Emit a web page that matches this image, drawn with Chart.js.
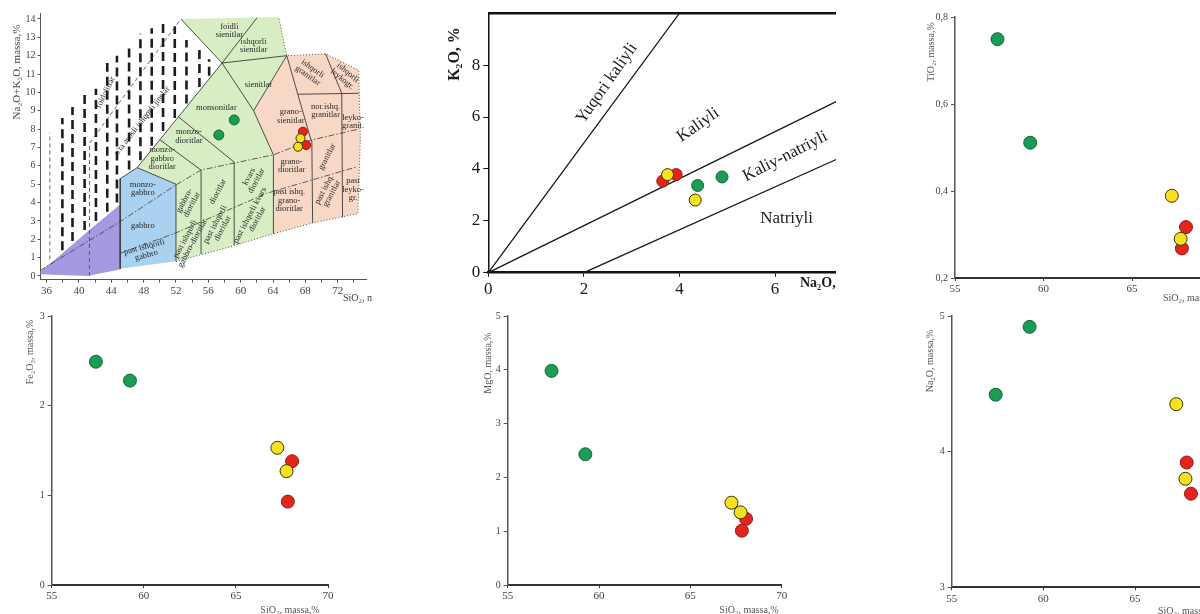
<!DOCTYPE html>
<html>
<head>
<meta charset="utf-8">
<title>SiO2 diagrammalari</title>
<script src="https://cdn.jsdelivr.net/npm/chart.js@4.4.1/dist/chart.umd.min.js"></script>
<style>
  html, body { margin: 0; padding: 0; background: #fff; }
  body { position: relative; width: 1200px; height: 614px; overflow: hidden; }
  .panel { position: absolute; overflow: hidden; }
  .panel canvas { position: absolute; left: 0; top: 0; }
</style>
</head>
<body>
<div class="panel" style="left:0;top:0;width:372px;height:307px"><canvas id="tas" width="372" height="307"></canvas></div>
<div class="panel" style="left:440px;top:0;width:396px;height:300px"><canvas id="kna" width="440" height="300"></canvas></div>
<div class="panel" style="left:900px;top:0;width:300px;height:307px"><canvas id="ti" width="340" height="307"></canvas></div>
<div class="panel" style="left:0;top:300px;width:440px;height:314px"><canvas id="fe" width="440" height="314"></canvas></div>
<div class="panel" style="left:440px;top:300px;width:440px;height:314px"><canvas id="mg" width="440" height="314"></canvas></div>
<div class="panel" style="left:900px;top:300px;width:300px;height:314px"><canvas id="na" width="340" height="314"></canvas></div>
<script>
// sample groups: green, yellow, red
// TAS diagram (SiO2 vs Na2O+K2O)
const tasSiGreen = [57.3, 59.2];
const tasAlkGreen = [7.68, 8.5];
const tasSiYellow = [67.4, 67.1];
const tasAlkYellow = [7.5, 7.04];
const tasSiRed = [67.7, 68.1];
const tasAlkRed = [7.86, 7.13];

// K2O vs Na2O
const naGreen = [4.38, 4.89];
const kGreen = [3.36, 3.69];
const naYellow = [3.75, 4.33];
const kYellow = [3.78, 2.8];
const naRed = [3.65, 3.93];
const kRed = [3.53, 3.78];

// Harker diagrams, SiO2 shared
const siGreen = [57.4, 59.25];
const siYellow = [67.25, 67.75];
const siRed = [68.05, 67.82];
const tiGreen = [0.749, 0.511];
const tiYellow = [0.389, 0.29];
const tiRed = [0.317, 0.268];
const feGreen = [2.49, 2.28];
const feYellow = [1.53, 1.27];
const feRed = [1.38, 0.93];
const mgGreen = [3.98, 2.43];
const mgYellow = [1.53, 1.35];
const mgRed = [1.23, 1.01];
const na2oGreen = [4.42, 4.92];
const na2oYellow = [4.35, 3.80];
const na2oRed = [3.69, 3.92];

// tick values
const tasTicksX = [36, 38, 40, 42, 44, 46, 48, 50, 52, 54, 56, 58, 60, 62, 64, 66, 68, 70, 72, 74];
const tasTicksY = [0, 1, 2, 3, 4, 5, 6, 7, 8, 9, 10, 11, 12, 13, 14];
const knaTicks = [0, 2, 4, 6, 8];
const siTicks = [55, 60, 65, 70];
const tiTicks = [0.2, 0.4, 0.6, 0.8];
const feTicks = [0, 1, 2, 3];
const mgTicks = [0, 1, 2, 3, 4, 5];
const na2oTicks = [3, 4, 5];

// TAS field outlines
const tasPurple = [[35.2,0.1],[41,0],[45.1,0.35],[45.1,3.9],[41.3,2.5],[37.2,0.95],[35.2,0.25]];
const tasBlue = [[45.1,0.4],[52,0.8],[52,5.0],[47.2,5.9],[45.1,5.3]];
const tasGreen = [[52,0.8],[58,1.5],[64.05,2.3],[64.05,6.6],[61.6,9.0],[65.7,12.0],[64.7,14.1],[52.6,14.0],[57.7,11.6],[47.2,5.9],[52,5.0]];
const tasPink = [[64.05,2.3],[69,2.9],[74.5,3.4],[74.8,7.5],[74.6,11.2],[70.5,12.1],[65.7,12.0],[61.6,9.0],[64.05,6.6]];
const tasSolid = [
  [[47.2,5.9],[57.7,11.6]], [[52.6,14.0],[57.7,11.6],[62.0,14.05]], [[57.7,11.6],[65.7,12.0]],
  [[57.7,11.6],[61.6,9.0],[64.05,6.6]], [[61.6,9.0],[65.7,12.0],[68.7,7.4]],
  [[50.0,7.42],[55.1,5.77]], [[52.3,8.67],[59.2,6.2]],
  [[52,0.8],[52,5.0],[47.2,5.9],[45.1,5.3],[45.1,0.4]],
  [[55.1,1.2],[55.1,5.77]], [[59.2,1.7],[59.2,6.2]], [[64.05,2.3],[64.05,6.6]],
  [[68.9,2.9],[68.8,7.4]], [[67.13,9.9],[74.6,9.95]], [[72.6,3.2],[72.5,9.95]], [[70.5,12.1],[72.5,9.95]]
];
const tasDashDot = [
  [[35.2,0.3],[45.1,2.96],[52,4.96],[55.1,5.77],[64.05,6.6],[68.7,7.4],[74.6,8.0]],
  [[45.1,1.24],[51.9,2.33],[63.2,4.5],[74.4,5.95]]
];
const tasDotted = [[[52,0.8],[58,1.5],[64.05,2.3],[69,2.9],[74.5,3.4],[74.8,7.5],[74.6,11.2],[70.5,12.1],[65.7,12.0],[64.7,14.1]]];
const tasThinDash = [[[36.4,0.9],[36.4,7.8]], [[41.3,0.0],[41.3,7.23],[52.6,14.0]]];
const picketX = [37.95, 39.2, 40.7, 42.1, 43.5, 44.7, 46.2, 47.6, 49.0, 50.4, 51.85, 53.3, 54.9, 56.1];
const picketTop = [8.6, 9.2, 10.1, 10.2, 11.6, 12.0, 12.6, 13.2, 13.5, 13.9, 13.6, 12.85, 12.5, 11.8];
const picketBase = [1.4, 1.9, 2.5, 3.0, 3.5, 4.0, 5.8, 6.3, 7.1, 7.9, 8.6, 9.4, 10.3, 10.9];

// K2O-Na2O boundaries
const kBounds = [[[0,0],[4,10]], [[0,0],[8,7.25]], [[2,0],[8,4.96]]];

const serif = "'Liberation Serif', 'DejaVu Serif', serif";
const GREEN = '#1b9c54', GREEN_EDGE = '#0f6a36';
const RED = '#e2261c', RED_EDGE = '#991710';
const YELLOW = '#f6e022', YELLOW_EDGE = '#3d3300';

function f(size, weight) { return { family: serif, size: size, weight: weight || 'normal' }; }
function fs(size, weight) { return (weight ? weight + ' ' : '') + size + 'px ' + serif; }

function axis(min, max, ticks, size, fmt, font, textColor, lineColor, lineW, tickLen, pad) {
  return {
    type: 'linear', min: min, max: max,
    afterFit: function (s) { if (s.isHorizontal()) s.height = size; else s.width = size; },
    afterBuildTicks: function (s) { s.ticks = ticks.map(function (v) { return { value: v }; }); },
    ticks: { font: font, color: textColor, padding: pad, autoSkip: false, maxRotation: 0, minRotation: 0, callback: fmt },
    grid: { drawOnChartArea: false, drawTicks: true, tickLength: tickLen, tickWidth: 1, color: lineColor },
    border: { display: true, color: lineColor, width: lineW }
  };
}

function dots(xs, ys, fill, edge, r) {
  return { data: xs.map(function (x, i) { return { x: x, y: ys[i] }; }),
    backgroundColor: fill, borderColor: edge, borderWidth: 1, pointRadius: r, order: 0 };
}

function area(poly, color) {
  return { data: poly.map(function (p) { return { x: p[0], y: p[1] }; }), showLine: true, fill: 'shape',
    backgroundColor: color, borderColor: 'rgba(0,0,0,0)', borderWidth: 0, pointRadius: 0, order: 3 };
}

function path(segs, color, w, dash, extra) {
  const data = [];
  segs.forEach(function (seg, k) {
    if (k) data.push({ x: seg[0][0], y: null });
    seg.forEach(function (p) { data.push({ x: p[0], y: p[1] }); });
  });
  return Object.assign({ data: data, showLine: true, fill: false, borderColor: color, borderWidth: w,
    borderDash: dash || [], pointRadius: 0, spanGaps: false, order: 2 }, extra || {});
}

function notes(items) {
  return {
    id: 'notes',
    afterDatasetDraw: function (chart, args) {
      if (chart.data.datasets[args.index].label !== 'notes') return;
      const ctx = chart.ctx, sx = chart.scales.x, sy = chart.scales.y;
      items.forEach(function (n) {
        const px = n.px !== undefined ? n.px : sx.getPixelForValue(n.x);
        const py = n.py !== undefined ? n.py : sy.getPixelForValue(n.y);
        const lines = [].concat(n.t);
        ctx.save();
        ctx.translate(px, py);
        ctx.rotate((n.r || 0) * Math.PI / 180);
        ctx.font = n.font;
        ctx.fillStyle = n.c || '#333';
        ctx.textAlign = n.a || 'center';
        ctx.textBaseline = 'middle';
        lines.forEach(function (s, i) { ctx.fillText(s, 0, (i - (lines.length - 1) / 2) * (n.lh || 9)); });
        ctx.restore();
      });
    }
  };
}

function scatterChart(id, s) {
  return new Chart(document.getElementById(id), {
    type: 'scatter',
    data: { datasets: s.datasets.concat([{ label: 'notes', data: [], order: 0.5 }]) },
    options: {
      responsive: false, animation: false, devicePixelRatio: 1, events: [],
      layout: { padding: { left: 0, top: s.top, right: s.right, bottom: 0 } },
      scales: { x: s.x, y: s.y },
      plugins: { legend: { display: false }, tooltip: { enabled: false } }
    },
    plugins: [notes(s.notes)]
  });
}

// ---------- TAS ----------
const lab = fs(8.5);
const tasNames = [
  { t: ['foidli', 'sienitlar'], x: 58.6, y: 13.35 },
  { t: ['ishqorli', 'sienitlar'], x: 61.6, y: 12.55 },
  { t: ['sienitlar'], x: 62.2, y: 10.4 },
  { t: ['monsonitlar'], x: 57.0, y: 9.15 },
  { t: ['monzo-', 'dioritlar'], x: 53.6, y: 7.6 },
  { t: ['monzo-', 'gabbro', 'dioritlar'], x: 50.3, y: 6.4 },
  { t: ['monzo-', 'gabbro'], x: 47.9, y: 4.75 },
  { t: ['gabbro'], x: 47.9, y: 2.75 },
  { t: ['past ishqorli', 'gabbro'], x: 48.2, y: 1.35, r: -15 },
  { t: ['gabbro-', 'dioritlar'], x: 53.5, y: 4.0, r: -62 },
  { t: ['past ishqorli', 'gabbro-dioritlar'], x: 53.6, y: 1.9, r: -62 },
  { t: ['dioritlar'], x: 57.2, y: 4.6, r: -62 },
  { t: ['past ishqorli', 'dioritlar'], x: 57.3, y: 2.7, r: -62 },
  { t: ['kvars', 'dioritlar'], x: 61.5, y: 5.3, r: -62 },
  { t: ['past ishqorli kvars', 'dioritlar'], x: 61.6, y: 3.2, r: -62 },
  { t: ['grano-', 'sienitlar'], x: 66.2, y: 8.7 },
  { t: ['grano-', 'dioritlar'], x: 66.3, y: 6.0 },
  { t: ['past ishq.', 'grano-', 'dioritlar'], x: 66.0, y: 4.1 },
  { t: ['granitlar'], x: 70.7, y: 6.5, r: -62 },
  { t: ['past ishq.', 'granitlar'], x: 70.8, y: 4.6, r: -62 },
  { t: ['nor.ishq.', 'granitlar'], x: 70.5, y: 9.0 },
  { t: ['ishqorli', 'granitlar'], x: 68.6, y: 11.1, r: 35 },
  { t: ['ishqorli', 'leykogr.'], x: 72.9, y: 10.9, r: 40 },
  { t: ['leyko-', 'granit.'], x: 73.9, y: 8.4 },
  { t: ['past', 'leyko-', 'gr.'], x: 73.9, y: 4.7 },
  { t: ['foidolitlar'], x: 43.3, y: 10.0, r: -64 },
  { t: ["o'ta asosli ishqorli jinslar"], x: 47.8, y: 8.45, r: -52 }
].map(function (n) { n.font = lab; n.c = '#2a2a2a'; n.lh = 8.5; return n; });

const picketSegs = picketX.map(function (x, i) { return [[x, picketBase[i]], [x, picketTop[i]]]; });

scatterChart('tas', {
  top: 13.45, right: 1.4,
  x: axis(35.25, 75.5, tasTicksX, 27.35, function (v) { return (v % 4 === 0 && v <= 72) ? String(v) : ''; },
    f(11), '#444', '#555', 1, 3, 2),
  y: axis(-0.2, 14.3, tasTicksY, 40.55, function (v) { return String(v); }, f(10), '#444', '#555', 1, 3, 2),
  datasets: [
    dots(tasSiYellow, tasAlkYellow, YELLOW, YELLOW_EDGE, 4.5),
    dots(tasSiRed, tasAlkRed, RED, RED_EDGE, 4.5),
    dots(tasSiGreen, tasAlkGreen, GREEN, GREEN_EDGE, 5),
    path(tasSolid, '#3a3a3a', 0.9),
    path(tasDashDot, '#3a3a3a', 0.8, [6, 2, 1.5, 2]),
    path(tasDotted, '#555', 1, [1, 2]),
    path(tasThinDash, '#444', 0.8, [4, 3]),
    path(picketSegs, '#1c1c1c', 2.6, [9, 5]),
    area(tasPurple, '#a39ae0'),
    area(tasBlue, '#a8d2f0'),
    area(tasGreen, '#d8edc3'),
    area(tasPink, '#f7d8c4')
  ],
  notes: tasNames.concat([
    { t: 'Na₂O+K₂O, massa,%', px: 16.7, py: 72, r: -90, font: fs(11), c: '#444' },
    { t: 'SiO₂, massa,%', px: 343, py: 298, a: 'left', font: fs(10), c: '#444' }
  ])
});

// ---------- K2O vs Na2O ----------
const bigLab = fs(17);
scatterChart('kna', {
  top: 10, right: 9.3,
  x: axis(0, 8, knaTicks, 27.3, function (v) { return String(v); }, f(17), '#1a1a1a', '#111', 2.5, 4, 3),
  y: axis(0, 10, knaTicks, 48.3, function (v) { return String(v); }, f(17), '#1a1a1a', '#111', 1.5, 5, 3),
  datasets: [
    dots(naYellow, kYellow, YELLOW, YELLOW_EDGE, 6),
    dots(naRed, kRed, RED, RED_EDGE, 6),
    dots(naGreen, kGreen, GREEN, GREEN_EDGE, 6),
    path(kBounds, '#1a1a1a', 1.3),
    path([[[0, 10], [8, 10]]], '#111', 2.5, [], { clip: false })
  ],
  notes: [
    { t: 'Yuqori kaliyli', x: 2.48, y: 7.3, r: -55, font: bigLab, c: '#1a1a1a' },
    { t: 'Kaliyli', x: 4.39, y: 5.69, r: -35, font: bigLab, c: '#1a1a1a' },
    { t: 'Kaliy-natriyli', x: 6.21, y: 4.48, r: -27, font: bigLab, c: '#1a1a1a' },
    { t: 'Natriyli', x: 6.24, y: 2.07, font: bigLab, c: '#1a1a1a' },
    { t: 'K₂O, %', px: 15, py: 54, r: -90, font: fs(16, 'bold'), c: '#1a1a1a' },
    { t: 'Na₂O, %', px: 360, py: 283, a: 'left', font: fs(14, 'bold'), c: '#1a1a1a' }
  ]
});

// ---------- Harker diagrams ----------
function harker(id, s) {
  scatterChart(id, {
    top: s.top, right: s.right,
    x: axis(55, 70, siTicks, s.xh, function (v) { return String(v); }, f(11), '#444', '#333', 2, 3, 2),
    y: axis(s.ymin, s.ymax, s.yticks, s.yw, s.fmt, f(10), '#444', '#555', 1.5, 4, 3),
    datasets: [
      dots(siYellow, s.yellow, YELLOW, YELLOW_EDGE, 6.5),
      dots(siRed, s.red, RED, RED_EDGE, 6.5),
      dots(siGreen, s.green, GREEN, GREEN_EDGE, 6.5)
    ],
    notes: [
      { t: s.ytitle, px: s.yt[0], py: s.yt[1], r: -90, font: fs(10), c: '#555' },
      { t: 'SiO₂, massa,%', px: s.xt[0], py: s.xt[1], a: s.xa, font: fs(10), c: '#555' }
    ]
  });
}
const plain = function (v) { return String(v); };

harker('ti', { top: 17, right: 19.5, xh: 29, yw: 55, ymin: 0.2, ymax: 0.8, yticks: tiTicks,
  fmt: function (v) { return v.toFixed(1).replace('.', ','); },
  green: tiGreen, yellow: tiYellow, red: tiRed,
  ytitle: 'TiO₂, massa,%', yt: [31.7, 52], xt: [263, 298], xa: 'left' });

harker('fe', { top: 16, right: 112, xh: 29, yw: 51.7, ymin: 0, ymax: 3, yticks: feTicks, fmt: plain,
  green: feGreen, yellow: feYellow, red: feRed,
  ytitle: 'Fe₂O₃, massa,%', yt: [30, 52], xt: [290, 310], xa: 'center' });

harker('mg', { top: 16, right: 98.3, xh: 29, yw: 67.7, ymin: 0, ymax: 5, yticks: mgTicks, fmt: plain,
  green: mgGreen, yellow: mgYellow, red: mgRed,
  ytitle: 'MgO, massa,%', yt: [48, 63], xt: [309, 310], xa: 'center' });

harker('na', { top: 16, right: 13.3, xh: 26.7, yw: 51.7, ymin: 3, ymax: 5, yticks: na2oTicks, fmt: plain,
  green: na2oGreen, yellow: na2oYellow, red: na2oRed,
  ytitle: 'Na₂O, massa,%', yt: [30, 61], xt: [258, 311], xa: 'left' });
</script>
</body>
</html>
